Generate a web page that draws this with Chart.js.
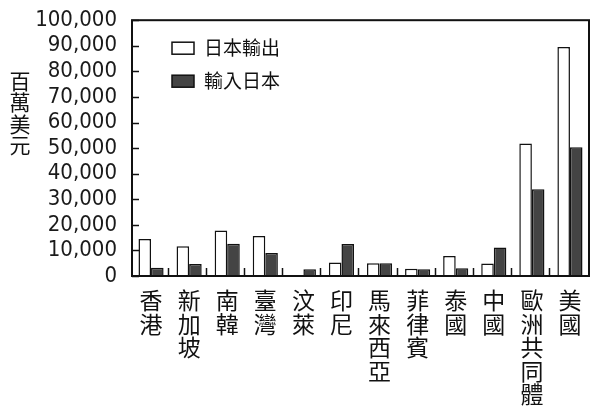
<!DOCTYPE html>
<html>
<head>
<meta charset="utf-8">
<script src="https://cdn.jsdelivr.net/npm/chart.js@4.4.1/dist/chart.umd.min.js"></script>
<style>
  body { margin: 0; background: #fff; }
  #wrap { width: 590px; height: 408px; }
</style>
</head>
<body>
<div id="wrap"><canvas id="grafico" width="590" height="408"></canvas></div>
<script>
// categorias (etiquetas verticales, un caracter por linea)
const paises = ['香港', '新加坡', '南韓', '臺灣', '汶萊', '印尼', '馬來西亞', '菲律賓', '泰國', '中國', '歐洲共同體', '美國'];
const exportJapon = [14500, 11600, 17800, 15600, 100, 5300, 5000, 2800, 7800, 4900, 51800, 89500];
const importJapon = [3200, 4700, 12600, 9000, 2600, 12500, 5000, 2600, 3000, 11100, 33900, 50300];
const nombresSeries = ['日本輸出', '輸入日本'];
const yTicks = ['0', '10,000', '20,000', '30,000', '40,000', '50,000', '60,000', '70,000', '80,000', '90,000', '100,000'];
const tituloY = '百萬美元';

const fuenteCJK = '"Noto Sans CJK TC", "Noto Sans CJK JP", sans-serif';

// marco, marcas internas, leyenda y titulo del eje
const extras = {
  id: 'extras',
  afterDatasetsDraw(chart) {
    const { ctx, chartArea: a, scales } = chart;
    ctx.save();
    ctx.strokeStyle = '#111';
    ctx.lineWidth = 1.5;

    // marcas del eje y hacia adentro
    scales.y.ticks.forEach(t => {
      const y = Math.round(scales.y.getPixelForValue(t.value)) + 0.5;
      ctx.beginPath();
      ctx.moveTo(a.left, y);
      ctx.lineTo(a.left + 7, y);
      ctx.stroke();
    });

    // marcas entre categorias
    const ancho = (a.right - a.left) / paises.length;
    for (let i = 1; i < paises.length; i++) {
      const x = Math.round(scales.x.getPixelForValue(i) - ancho / 2) - 1.5;
      ctx.beginPath();
      ctx.moveTo(x, a.bottom);
      ctx.lineTo(x, a.bottom - 8);
      ctx.stroke();
    }

    ctx.lineWidth = 2;
    ctx.strokeRect(a.left, a.top, a.right - a.left, a.bottom - a.top);

    // leyenda
    chart.data.datasets.forEach((ds, i) => {
      const bx = a.left + 40;
      const by = a.top + 22 + i * 33;
      ctx.fillStyle = ds.backgroundColor;
      ctx.fillRect(bx, by, 22, 12);
      ctx.lineWidth = 1.5;
      ctx.strokeRect(bx, by, 22, 12);
      ctx.fillStyle = '#111';
      ctx.font = '19px ' + fuenteCJK;
      ctx.textBaseline = 'middle';
      ctx.textAlign = 'left';
      ctx.fillText(ds.label, bx + 32, by + 6);
    });

    // titulo vertical del eje y
    ctx.font = '21px ' + fuenteCJK;
    ctx.textAlign = 'center';
    ctx.textBaseline = 'middle';
    ctx.fillStyle = '#111';
    [...tituloY].forEach((c, i) => ctx.fillText(c, 20, 81 + i * 21.5));
    ctx.restore();
  }
};

new Chart(document.getElementById('grafico'), {
  type: 'bar',
  data: {
    labels: paises.map(p => [...p]),
    datasets: [
      {
        label: nombresSeries[0],
        data: exportJapon,
        backgroundColor: '#ffffff',
        borderColor: '#111',
        borderWidth: 1.5
      },
      {
        label: nombresSeries[1],
        data: importJapon,
        backgroundColor: '#444444',
        borderColor: '#111',
        borderWidth: 1.5
      }
    ]
  },
  options: {
    responsive: false,
    animation: false,
    devicePixelRatio: 1,
    layout: { padding: { top: 18, right: 1, left: 0, bottom: 0 } },
    datasets: { bar: { categoryPercentage: 0.66, barPercentage: 1.0 } },
    plugins: {
      legend: { display: false },
      tooltip: { enabled: false }
    },
    scales: {
      x: {
        grid: { display: false },
        border: { display: false },
        ticks: {
          color: '#111',
          padding: 5,
          maxRotation: 0,
          autoSkip: false,
          font: { family: fuenteCJK, size: 23, lineHeight: '23.5px' }
        },
        afterFit: s => { s.height = 132; }
      },
      y: {
        min: 0,
        max: 100000,
        grid: { display: false },
        border: { display: false },
        ticks: {
          stepSize: 10000,
          autoSkip: false,
          color: '#1a1a1a',
          padding: 7,
          font: { family: '"DejaVu Sans Condensed", "DejaVu Sans", sans-serif', size: 22 },
          callback: (v, i) => yTicks[i]
        },
        afterFit: s => { s.width = 132; }
      }
    }
  },
  plugins: [extras]
});
</script>
</body>
</html>
